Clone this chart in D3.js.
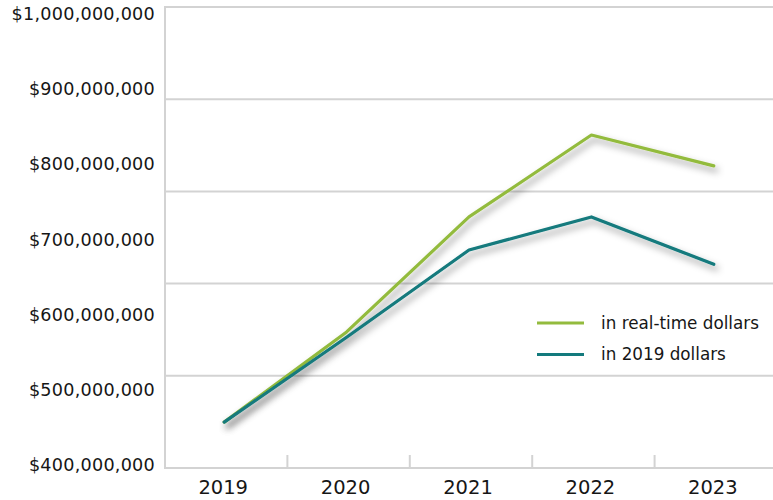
<!DOCTYPE html>
<html>
<head>
<meta charset="utf-8">
<script src="https://cdn.jsdelivr.net/npm/d3@7"></script>
<style>
  html, body { margin: 0; padding: 0; background: #fff; }
  svg { display: block; }
  text { font-family: "DejaVu Sans", sans-serif; fill: #161616; }
</style>
</head>
<body>
<svg id="chart" width="773" height="500"></svg>
<script>
// Yearly totals, in dollars
const years = ["2019", "2020", "2021", "2022", "2023"];
const realTimeDollars = [457e6, 577e6, 730e6, 839e6, 798e6];
const constant2019Dollars = [457e6, 570e6, 686e6, 730e6, 667e6];
const yTickValues = [400e6, 500e6, 600e6, 700e6, 800e6, 900e6, 1000e6];
const seriesNames = ["in real-time dollars", "in 2019 dollars"];
const seriesColors = ["#93bb3e", "#137a7d"];

const series = [
  { name: seriesNames[0], color: seriesColors[0], values: realTimeDollars },
  { name: seriesNames[1], color: seriesColors[1], values: constant2019Dollars }
];

const svg = d3.select("#chart");
const frame = { left: 165, right: 777, top: 7, bottom: 468 };

const x = d3.scaleBand().domain(years).range([frame.left, frame.right]).padding(0);
const y = d3.scaleLinear().domain([400e6, 1000e6]).range([465, 14]);
// frame divided into five horizontal bands
const gridY = d3.scaleLinear().domain([0, 5]).range([frame.bottom, frame.top]);

const defs = svg.append("defs");
const shadow = defs.append("filter").attr("id", "lineShadow")
  .attr("x", "-10%").attr("y", "-10%").attr("width", "130%").attr("height", "130%");
shadow.append("feDropShadow")
  .attr("dx", 3).attr("dy", 4.5).attr("stdDeviation", 3.8)
  .attr("flood-color", "#000").attr("flood-opacity", 0.42);

const gridColor = "#d3d3d3";

// horizontal grid, frame top and baseline
svg.append("g").selectAll("line")
  .data(d3.range(0, 6))
  .join("line")
  .attr("x1", frame.left).attr("x2", 773)
  .attr("y1", d => gridY(d)).attr("y2", d => gridY(d))
  .attr("stroke", gridColor).attr("stroke-width", 2);

// left frame edge
svg.append("line")
  .attr("x1", frame.left).attr("x2", frame.left)
  .attr("y1", frame.top - 1).attr("y2", frame.bottom + 1)
  .attr("stroke", gridColor).attr("stroke-width", 2);

// category separators on the baseline
svg.append("g").selectAll("line")
  .data(years.slice(1))
  .join("line")
  .attr("x1", d => x(d)).attr("x2", d => x(d))
  .attr("y1", frame.bottom - 13).attr("y2", frame.bottom)
  .attr("stroke", gridColor).attr("stroke-width", 2);

// y axis labels
const yAxis = d3.axisLeft(y)
  .tickValues(yTickValues)
  .tickSize(0).tickPadding(0)
  .tickFormat(d => "$" + d3.format(",")(d));
const yg = svg.append("g").attr("transform", "translate(155,0)").call(yAxis);
yg.select(".domain").remove();
yg.selectAll("text")
  .style("font-family", "'DejaVu Sans', sans-serif")
  .style("font-size", "17.6px")
  .style("letter-spacing", "0.25px")
  .attr("fill", "#161616");

// x axis labels
const xAxis = d3.axisBottom(x).tickSize(0).tickPadding(0);
const xg = svg.append("g").attr("transform", "translate(-3,480)").call(xAxis);
xg.select(".domain").remove();
xg.selectAll("text")
  .style("font-family", "'DejaVu Sans', sans-serif")
  .style("font-size", "19.5px")
  .attr("fill", "#161616");

// series lines
const line = d3.line()
  .x((d, i) => x(years[i]) + x.bandwidth() / 2 - 2)
  .y(d => y(d));

svg.append("g").selectAll("path")
  .data(series)
  .join("path")
  .attr("d", d => line(d.values))
  .attr("fill", "none")
  .attr("stroke", d => d.color)
  .attr("stroke-width", 3.2)
  .attr("stroke-linejoin", "round")
  .attr("stroke-linecap", "round")
  .attr("filter", "url(#lineShadow)");

// legend
const legend = svg.append("g").attr("transform", "translate(537,323)");
const items = legend.selectAll("g")
  .data(series)
  .join("g")
  .attr("transform", (d, i) => `translate(0,${i * 31.5})`);
items.append("line")
  .attr("x1", 0).attr("x2", 47)
  .attr("stroke", d => d.color).attr("stroke-width", 3.2);
items.append("text")
  .attr("x", 64).attr("dy", "0.35em")
  .style("font-size", "16.8px")
  .text(d => d.name);
</script>
</body>
</html>
